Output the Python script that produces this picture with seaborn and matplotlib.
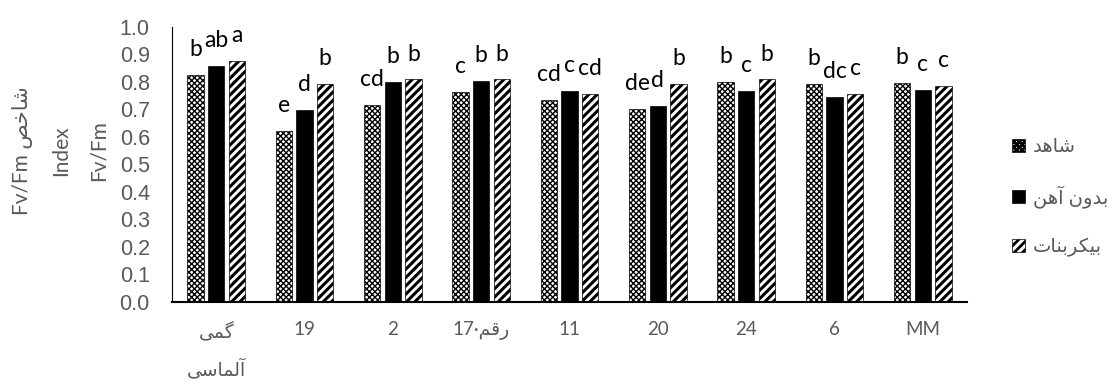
import matplotlib
matplotlib.use('Agg')
import matplotlib.pyplot as plt
from matplotlib.patches import Patch
import seaborn as sns
import pandas as pd

# data
cultivars = ['گمی آلماسی', '19', '2', 'رقم۱۷', '11', '20', '24', '6', 'MM']
treatments = ['شاهد', 'بدون آهن', 'بیکربنات']
control = [0.825, 0.622, 0.716, 0.763, 0.735, 0.702, 0.800, 0.793, 0.796]
no_fe = [0.858, 0.698, 0.800, 0.804, 0.767, 0.713, 0.767, 0.745, 0.771]
bicarb = [0.876, 0.793, 0.810, 0.810, 0.756, 0.793, 0.810, 0.757, 0.785]
control_letters = ['b', 'e', 'cd', 'c', 'cd', 'de', 'b', 'b', 'b']
no_fe_letters = ['ab', 'd', 'b', 'b', 'c', 'd', 'c', 'dc', 'c']
bicarb_letters = ['a', 'b', 'b', 'b', 'cd', 'b', 'b', 'c', 'c']
y_ticks = [0.0, 0.1, 0.2, 0.3, 0.4, 0.5, 0.6, 0.7, 0.8, 0.9, 1.0]

# matplotlib has no arabic shaping, so pick presentation forms by hand
FORMS = {
    'ا': ('\uFE8D', '\uFE8E', None, None),
    'آ': ('\uFE81', '\uFE82', None, None),
    'د': ('\uFEA9', '\uFEAA', None, None),
    'ر': ('\uFEAD', '\uFEAE', None, None),
    'و': ('\uFEED', '\uFEEE', None, None),
    'ب': ('\uFE8F', '\uFE90', '\uFE91', '\uFE92'),
    'ت': ('\uFE95', '\uFE96', '\uFE97', '\uFE98'),
    'خ': ('\uFEA5', '\uFEA6', '\uFEA7', '\uFEA8'),
    'س': ('\uFEB1', '\uFEB2', '\uFEB3', '\uFEB4'),
    'ش': ('\uFEB5', '\uFEB6', '\uFEB7', '\uFEB8'),
    'ص': ('\uFEB9', '\uFEBA', '\uFEBB', '\uFEBC'),
    'ق': ('\uFED5', '\uFED6', '\uFED7', '\uFED8'),
    'ل': ('\uFEDD', '\uFEDE', '\uFEDF', '\uFEE0'),
    'م': ('\uFEE1', '\uFEE2', '\uFEE3', '\uFEE4'),
    'ن': ('\uFEE5', '\uFEE6', '\uFEE7', '\uFEE8'),
    'ه': ('\uFEE9', '\uFEEA', '\uFEEB', '\uFEEC'),
    'ک': ('\uFB8E', '\uFB8F', '\uFB90', '\uFB91'),
    'گ': ('\uFB92', '\uFB93', '\uFB94', '\uFB95'),
    'ی': ('\uFBFC', '\uFBFD', '\uFBFE', '\uFBFF'),
}


def shape(word):
    out = []
    for i, c in enumerate(word):
        if c not in FORMS:
            out.append(c)
            continue
        iso, fin, ini, med = FORMS[c]
        prev = word[i - 1] if i > 0 else None
        nxt = word[i + 1] if i + 1 < len(word) else None
        jp = prev in FORMS and FORMS[prev][2] is not None
        jn = nxt in FORMS and ini is not None
        if jp and jn:
            out.append(med)
        elif jp:
            out.append(fin)
        elif jn:
            out.append(ini)
        else:
            out.append(iso)
    return ''.join(reversed(out))


tick_labels = [shape('گمی') + '\n' + shape('آلماسی'), '19', '2', '17·' + shape('رقم'),
               '11', '20', '24', '6', 'MM']
legend_labels = [shape(t) for t in treatments]

rows = []
for vals, t in zip([control, no_fe, bicarb], treatments):
    for c, v in zip(cultivars, vals):
        rows.append({'cultivar': c, 'treatment': t, 'value': v})
df = pd.DataFrame(rows)

sns.set_style('white')
plt.rcParams['font.family'] = ['Lato', 'DejaVu Sans']
plt.rcParams['hatch.linewidth'] = 2.0

fig = plt.figure(figsize=(11.07, 3.8), dpi=100)
ax = fig.add_axes([0.1554, 0.2053, 0.7181, 0.7237])

sns.barplot(data=df, x='cultivar', y='value', hue='treatment', order=cultivars,
            hue_order=treatments, palette=['white', 'black', 'white'], saturation=1,
            width=0.7, gap=0.2, edgecolor='black', linewidth=0.5, legend=False, ax=ax)

hatches = ['xxxxxx', '', '////']
hatch_lw = [1.0, 1.0, 2.2]
for cont, h, hl in zip(ax.containers, hatches, hatch_lw):
    for bar in cont:
        bar.set_hatch(h)
        if hasattr(bar, 'set_hatch_linewidth'):
            bar.set_hatch_linewidth(hl)

for cont, labs in zip(ax.containers, [control_letters, no_fe_letters, bicarb_letters]):
    for bar, lab in zip(cont, labs):
        ax.text(bar.get_x() + bar.get_width() / 2, bar.get_height() + 0.068, lab,
                ha='center', va='baseline', fontsize=16.5, color='black')

ax.set_ylim(0, 1)
ax.set_yticks(y_ticks)
ax.set_yticklabels([f'{v:.1f}' for v in y_ticks], family='Liberation Sans',
                   fontsize=15.5, color='#595959')
ax.set_xticks(range(len(cultivars)))
ax.set_xticklabels(tick_labels, fontsize=13.5, color='#595959')
ax.get_xticklabels()[0].set_linespacing(1.9)
ax.tick_params(axis='y', length=0, pad=16)
ax.tick_params(axis='x', length=0, pad=14)
ax.set_xlabel('')

ax.set_ylabel('Fv/Fm ' + shape('شاخص') + '\nIndex\nFv/Fm', fontsize=15,
              color='#595959', linespacing=2.1)
ax.yaxis.set_label_coords(-0.08, 0.55)

for s in ['top', 'right']:
    ax.spines[s].set_visible(False)
ax.spines['left'].set_color('black')
ax.spines['left'].set_linewidth(0.8)
ax.spines['bottom'].set_color('black')
ax.spines['bottom'].set_linewidth(1.5)

handles = [Patch(facecolor='white', edgecolor='black', hatch='xxxxxx', linewidth=0.5),
           Patch(facecolor='black', edgecolor='black', linewidth=0.5),
           Patch(facecolor='white', edgecolor='black', hatch='////', linewidth=0.5)]
leg = ax.legend(handles, legend_labels, loc='center left', bbox_to_anchor=(1.035, 0.38),
                frameon=False, fontsize=14, labelcolor='#595959', handlelength=0.65,
                handleheight=0.65, handletextpad=0.4, labelspacing=1.55)

fig.savefig('out.png', dpi=100)
